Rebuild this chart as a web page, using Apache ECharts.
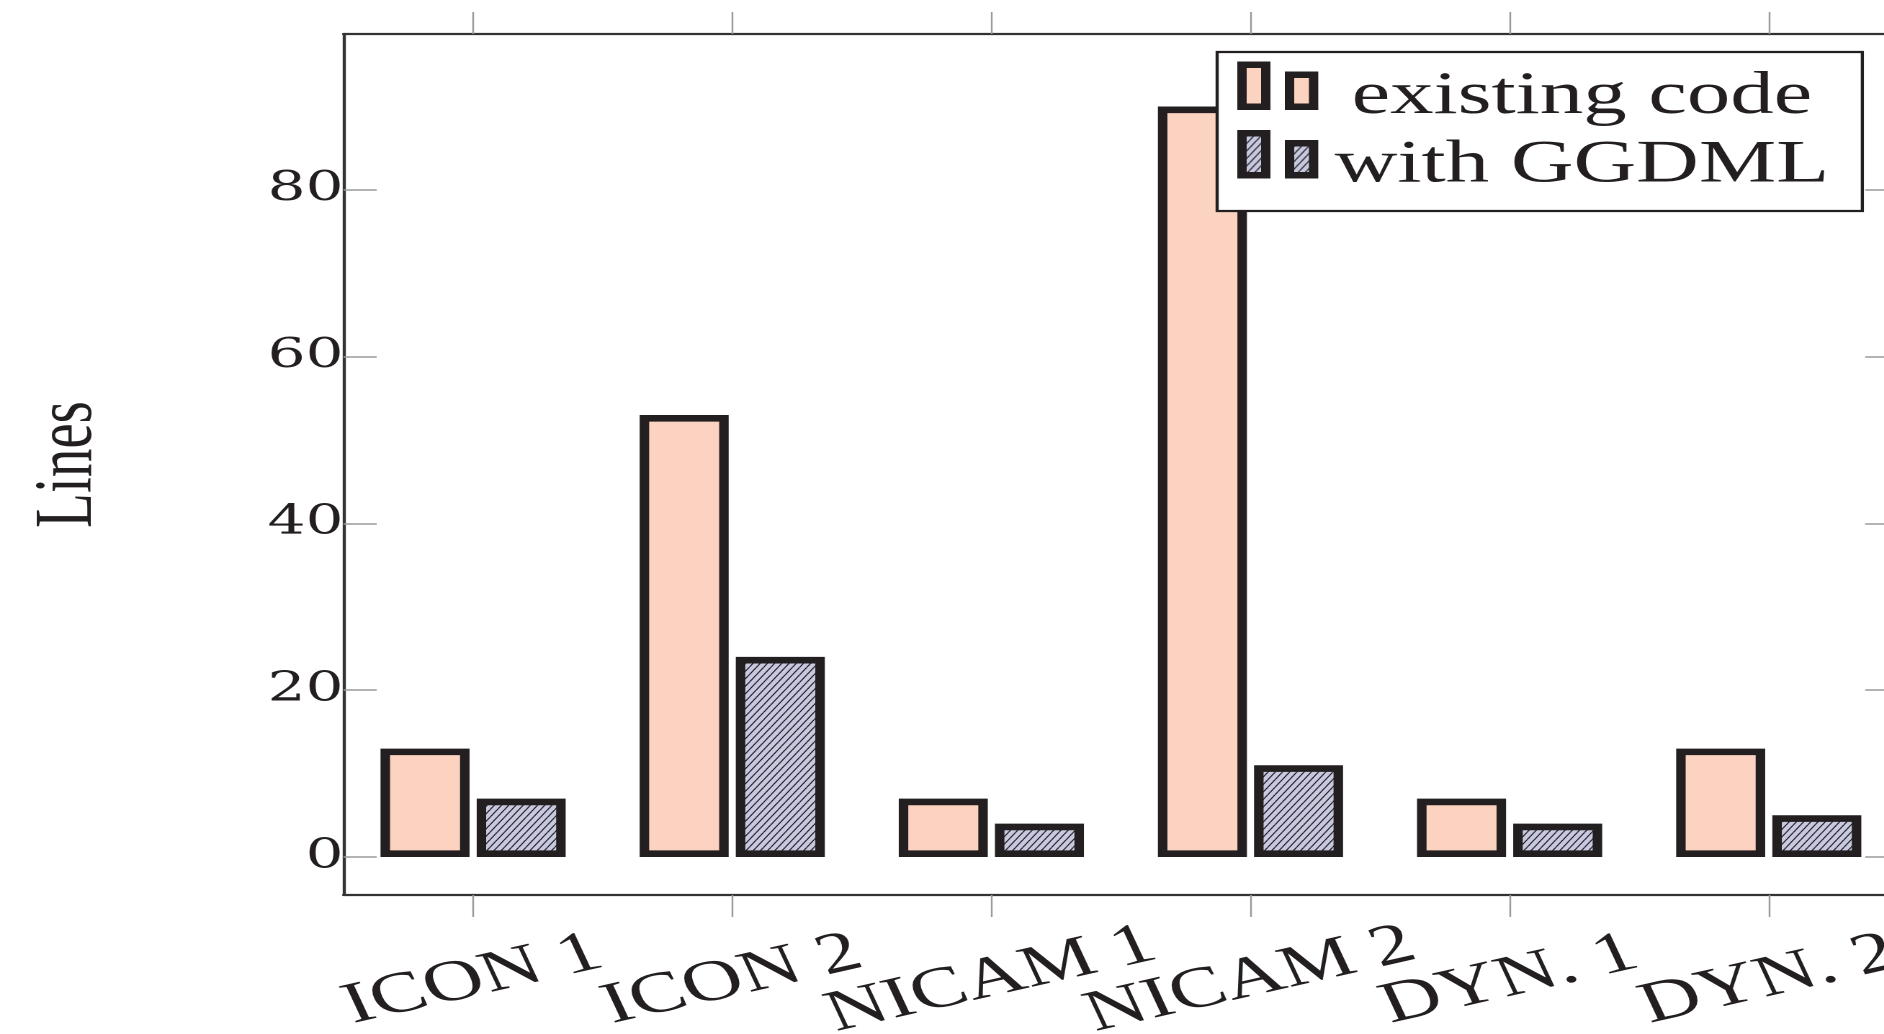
<!DOCTYPE html>
<html><head><meta charset="utf-8">
<script src="https://cdn.jsdelivr.net/npm/echarts@6/dist/echarts.min.js"></script>
<style>
html,body{margin:0;padding:0;background:#fff;overflow:hidden;}
#wrap{width:1884px;height:1034px;overflow:hidden;position:relative;background:#fff;}
#chart{width:1308px;height:1034px;transform:scaleX(1.4404);transform-origin:0 0;}
</style></head><body><div id="wrap"><div id="chart"></div></div>
<script>
// ---- data ----
const categories = ['ICON 1', 'ICON 2', 'NICAM 1', 'NICAM 2', 'DYN. 1', 'DYN. 2'];
const seriesNames = ['existing code', 'with GGDML'];
const existingCode = [13, 53, 7, 90, 7, 13];
const withGGDML = [7, 24, 4, 11, 4, 5];
const yTickValues = [0, 20, 40, 60, 80];
const yAxisName = 'Lines';

// ---- styles ----
const INK = '#231F20';
const PEACH = '#FCD2C0';
const LAVENDER = '#C8C8E1';
const SERIF = '"Liberation Serif", "Times New Roman", serif';

function makeHatch() {
  const c = document.createElement('canvas');
  const w = 10, h = 15;
  c.width = w; c.height = h;
  const g = c.getContext('2d');
  g.fillStyle = LAVENDER; g.fillRect(0, 0, w, h);
  g.strokeStyle = '#1a1a1a'; g.lineWidth = 1.8;
  for (const o of [-w, 0, w]) {
    g.beginPath(); g.moveTo(o, h); g.lineTo(o + w, 0); g.stroke();
  }
  return c;
}
const hatch = { image: makeHatch(), repeat: 'repeat', scaleX: 0.5, scaleY: 0.5 };

const chart = echarts.init(document.getElementById('chart'), null, { devicePixelRatio: 2, renderer: 'canvas' });

const frameLine = { show: true, onZero: false, lineStyle: { color: '#333', width: 2.2 } };

// legend icon: two small bars (pgfplots ybar legend); trailing move point only pads the icon box
const legendIcon = 'path://M0,0H16.5V42H0Z M33,10H49.7V42H33Z M60,65';

chart.setOption({
  animation: false,
  backgroundColor: '#fff',
  grid: { left: 238.5, top: 34, bottom: 139, width: 1079.4, containLabel: false, outerBoundsMode: 'none' },
  legend: {
    orient: 'vertical', left: 845, top: 52,
    backgroundColor: '#fff', borderColor: INK, borderWidth: 2.2, borderRadius: 0,
    padding: [9.5, 23, 9.5, 14],
    itemWidth: 60, itemHeight: 65, itemGap: -3,
    icon: legendIcon,
    itemStyle: { borderColor: INK, borderWidth: 6.5 },
    formatter: '{t|{name}}',
    textStyle: {
      fontFamily: SERIF, fontSize: 60.3, color: INK,
      rich: { t: { fontFamily: SERIF, fontSize: 60.3, color: INK, width: 342, align: 'center' } }
    },
    data: seriesNames
  },
  xAxis: [
    {
      type: 'category', data: categories, position: 'bottom',
      axisLine: frameLine,
      axisTick: { show: true, alignWithLabel: true, inside: false, length: 22, lineStyle: { color: '#9a9a9a', width: 1.2 } },
      axisLabel: { rotate: 18, align: 'center', verticalAlign: 'middle', margin: 85, interval: 0,
        fontFamily: SERIF, fontSize: 58, color: INK }
    },
    {
      type: 'category', data: categories, position: 'top',
      axisLine: frameLine,
      axisTick: { show: true, alignWithLabel: true, inside: false, length: 22, lineStyle: { color: '#9a9a9a', width: 1.2 } },
      axisLabel: { show: false }
    }
  ],
  yAxis: [
    {
      type: 'value', min: -4.56, max: 98.7, position: 'left',
      name: yAxisName, nameLocation: 'middle', nameRotate: 90, nameGap: 162,
      nameTextStyle: { fontFamily: SERIF, fontSize: 57, color: INK },
      axisLine: frameLine, splitLine: { show: false },
      axisTick: { show: true, inside: true, length: 23, customValues: yTickValues, lineStyle: { color: '#9a9a9a', width: 1.5 } },
      axisLabel: { customValues: yTickValues, margin: 0, fontFamily: '"DejaVu Serif", serif', fontSize: 41.5, color: INK }
    },
    {
      type: 'value', min: -4.56, max: 98.7, position: 'right',
      axisLine: frameLine, splitLine: { show: false },
      axisTick: { show: true, inside: true, length: 23, customValues: yTickValues, lineStyle: { color: '#9a9a9a', width: 1.5 } },
      axisLabel: { show: false }
    }
  ],
  series: [
    {
      name: seriesNames[0], type: 'bar', data: existingCode, barWidth: 61.8, barGap: '8%',
      itemStyle: { color: PEACH, borderColor: INK, borderWidth: 6.6 }
    },
    {
      name: seriesNames[1], type: 'bar', data: withGGDML, barWidth: 61.8, barGap: '8%',
      itemStyle: { color: hatch, borderColor: INK, borderWidth: 6.6 }
    }
  ]
});
</script></body></html>
